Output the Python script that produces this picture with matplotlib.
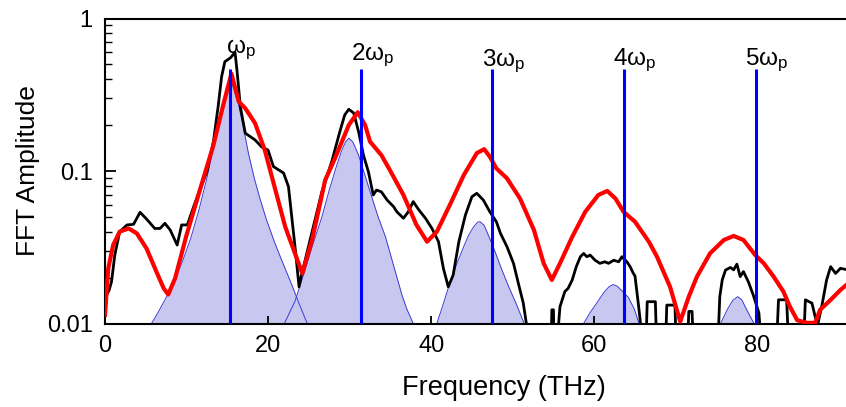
import matplotlib
matplotlib.use('Agg')
import matplotlib.pyplot as plt
from matplotlib.ticker import FuncFormatter, NullFormatter, LogLocator

# measured FFT spectrum (black)
blk_f = [0.2, 0.5, 0.8, 1.2, 1.8, 2.7, 3.5, 4.3, 5.1, 6.1, 6.75, 7.35, 8.0, 8.85, 9.4, 10.1,
         10.8, 11.7, 12.5, 13.3, 13.9, 14.3, 14.7, 15.4, 15.95, 16.2, 16.6, 17.2, 18.4, 19.2,
         20.0, 20.65, 21.9, 22.5, 23.3, 23.8, 24.1, 24.9, 25.7, 26.6, 27.8, 28.8, 29.4, 29.9,
         30.5, 31.1, 31.7, 32.3, 32.9, 33.3, 33.9, 34.6, 35.4, 35.8, 36.6, 37.2, 37.8, 38.5,
         39.3, 40.1, 40.9, 41.5, 42.1, 42.7, 43.4, 44.2, 45.0, 45.6, 46.4, 47.2, 48.0, 48.5,
         49.3, 50.1, 50.7, 51.3, 51.7, 51.9, 54.7, 54.8, 55.0, 55.1, 55.3, 55.8, 56.4, 56.8,
         57.3, 57.8, 58.3, 58.7, 59.1, 59.5, 60.1, 60.7, 61.3, 61.75, 62.4, 63.0, 63.4, 64.0,
         64.4, 64.8, 65.0, 65.4, 65.7, 66.3, 66.5, 67.5, 67.7, 68.7, 68.9, 69.9, 70.1, 71.4,
         71.6, 72.0, 72.2, 75.1, 75.4, 75.7, 76.1, 76.7, 77.1, 77.5, 77.9, 78.3, 78.9, 79.5,
         80.2, 80.6, 82.3, 82.6, 83.6, 83.9, 85.6, 85.9, 86.7, 87.1, 87.4, 87.9, 88.5, 89.0,
         89.6, 90.2, 90.9, 93.7]
blk_v = [0.0154, 0.0165, 0.0188, 0.0281, 0.040, 0.0443, 0.0447, 0.0536, 0.0484, 0.042, 0.042,
         0.0454, 0.041, 0.0327, 0.0443, 0.0443, 0.0569, 0.077, 0.099, 0.156, 0.271, 0.415,
         0.521, 0.553, 0.60, 0.45, 0.264, 0.177, 0.16, 0.144, 0.137, 0.107, 0.097, 0.079, 0.032,
         0.0174, 0.0208, 0.031, 0.0465, 0.073, 0.115, 0.181, 0.233, 0.254, 0.240, 0.181, 0.127,
         0.099, 0.0696, 0.075, 0.073, 0.0645, 0.0583, 0.054, 0.049, 0.054, 0.063, 0.0555, 0.049,
         0.042, 0.0344, 0.023, 0.0174, 0.0208, 0.0344, 0.0514, 0.0678, 0.0714, 0.0645, 0.054,
         0.0465, 0.039, 0.0319, 0.0248, 0.0183, 0.0136, 0.0098, 0.006, 0.006, 0.0123, 0.0123,
         0.006, 0.006, 0.0129, 0.0162, 0.017, 0.0193, 0.0236, 0.0274, 0.0288, 0.0274, 0.0281,
         0.026, 0.0248, 0.0254, 0.0248, 0.026, 0.0254, 0.0274, 0.0254, 0.0236, 0.0213, 0.0205,
         0.0136, 0.0098, 0.006, 0.0139, 0.0139, 0.006, 0.006, 0.0132, 0.0132, 0.006, 0.006,
         0.012, 0.012, 0.006, 0.006, 0.0150, 0.0193, 0.0224, 0.0233, 0.0225, 0.0245, 0.0203,
         0.0219, 0.0188, 0.0154, 0.0117, 0.006, 0.006, 0.0143, 0.0143, 0.006, 0.006, 0.0143,
         0.0136, 0.0111, 0.0098, 0.0129, 0.0193, 0.0236, 0.0213, 0.023, 0.0226, 0.0226]

# simulated spectrum (red)
red_f = [0.0, 0.4, 1.0, 1.8, 2.9, 3.9, 5.1, 6.3, 7.2, 7.75, 8.6, 10.0, 11.7, 13.3, 14.5, 15.5,
         16.4, 17.2, 18.4, 19.6, 20.9, 22.1, 23.3, 24.2, 25.4, 27.0, 28.2, 29.9, 31.0, 31.9,
         32.5, 33.9, 35.0, 36.6, 38.2, 39.5, 40.7, 42.3, 44.0, 45.6, 46.5, 47.2, 48.0, 49.3,
         50.9, 52.6, 53.8, 54.8, 55.8, 57.3, 58.9, 60.5, 61.6, 62.6, 63.6, 65.0, 66.7, 67.7,
         69.3, 70.55, 71.6, 72.6, 74.2, 75.9, 77.1, 78.3, 79.75, 80.8, 82.0, 83.2, 84.0, 84.9,
         86.1, 87.1, 87.7, 89.0, 90.2, 91.5, 93.7]
red_v = [0.0114, 0.023, 0.0327, 0.040, 0.042, 0.039, 0.031, 0.0219, 0.017, 0.0155, 0.0198,
         0.038, 0.077, 0.148, 0.271, 0.435, 0.285, 0.258, 0.206, 0.137, 0.075, 0.0431, 0.0288,
         0.0213, 0.0353, 0.087, 0.121, 0.200, 0.243, 0.200, 0.156, 0.127, 0.100, 0.0696, 0.0443,
         0.0344, 0.040, 0.060, 0.094, 0.131, 0.139, 0.124, 0.104, 0.0895, 0.066, 0.0411, 0.0248,
         0.0193, 0.0248, 0.037, 0.054, 0.0696, 0.074, 0.066, 0.054, 0.0465, 0.0344, 0.0274,
         0.0174, 0.0103, 0.015, 0.0203, 0.0288, 0.0353, 0.0375, 0.0353, 0.0281, 0.0248, 0.0203,
         0.0162, 0.0129, 0.0105, 0.0101, 0.0101, 0.0123, 0.0143, 0.0166, 0.019, 0.022]

# shaded harmonic peaks
peak1_f = [5.7, 6.5, 7.5, 8.5, 9.5, 10.5, 11.5, 12.5, 13.3, 14.0, 14.6, 15.0, 15.3, 15.6, 16.0,
           16.4, 17.0, 17.6, 18.3, 19.0, 19.8, 20.8, 21.8, 22.9, 23.8, 24.8]
peak1_v = [0.010, 0.0118, 0.0148, 0.019, 0.0255, 0.036, 0.055, 0.09, 0.141, 0.21, 0.30, 0.36,
           0.40, 0.37, 0.32, 0.27, 0.19, 0.13, 0.09, 0.066, 0.048, 0.034, 0.025, 0.018, 0.0135,
           0.010]
peak2_f = [22.0, 23.3, 24.5, 25.5, 26.6, 27.5, 28.3, 29.0, 29.5, 29.9, 30.4, 31.1, 31.9, 32.7,
           33.5, 34.4, 35.3, 36.4, 37.0, 37.8]
peak2_v = [0.010, 0.014, 0.022, 0.033, 0.050, 0.075, 0.104, 0.135, 0.155, 0.164, 0.155, 0.127,
           0.093, 0.068, 0.050, 0.037, 0.025, 0.0155, 0.0125, 0.010]
peak3_f = [40.7, 41.5, 42.3, 43.2, 44.0, 44.6, 45.2, 45.7, 46.0, 46.5, 47.2, 47.9, 48.6, 49.5,
           50.5, 51.4]
peak3_v = [0.010, 0.0135, 0.0185, 0.025, 0.032, 0.038, 0.043, 0.0462, 0.0465, 0.044, 0.036,
           0.029, 0.023, 0.0175, 0.0132, 0.010]
peak4_f = [58.7, 59.5, 60.3, 61.2, 61.8, 62.3, 62.8, 63.5, 64.2, 64.9, 65.5]
peak4_v = [0.010, 0.0118, 0.0136, 0.0160, 0.0174, 0.0180, 0.0176, 0.0162, 0.0148, 0.0125, 0.010]
peak5_f = [75.5, 76.3, 77.0, 77.6, 78.1, 78.7, 79.6]
peak5_v = [0.010, 0.0123, 0.0142, 0.0150, 0.0143, 0.0123, 0.010]

# harmonic markers
harm_f = [15.3, 31.4, 47.5, 63.6, 79.8]
harm_top = 0.47
harm_labels = ['ω$_p$', '2ω$_p$', '3ω$_p$', '4ω$_p$', '5ω$_p$']
label_y = [0.594, 0.534, 0.488, 0.496, 0.496]

plt.rcParams['font.family'] = ['Liberation Sans', 'DejaVu Sans']
plt.rcParams['mathtext.default'] = 'regular'

W, H = 846, 407
fig = plt.figure(figsize=(W / 100, H / 100), dpi=100)
# axes run slightly past the right edge, as in the cropped original
ax = fig.add_axes([105 / W, (H - 323.5) / H, (869 - 105) / W, (323.5 - 18.5) / H])
ax.set_yscale('log')

peaks = [(peak1_f, peak1_v), (peak2_f, peak2_v), (peak3_f, peak3_v),
         (peak4_f, peak4_v), (peak5_f, peak5_v)]
for pf, pv in peaks:
    ax.fill_between(pf, pv, 0.01, color='#c7c7f0', linewidth=0, zorder=1)
for pf, pv in peaks:
    ax.plot(pf, pv, color='#3b3bd6', linewidth=0.7, zorder=1.5)

ax.plot(blk_f, blk_v, color='black', linewidth=2.0, zorder=2)
ax.plot(red_f, red_v, color='#ff0000', linewidth=3.0, zorder=3)

ax.vlines(harm_f, 0.01, harm_top, color='#0000ff', linewidth=2.2, zorder=4)
for f, y, lab in zip(harm_f, label_y, harm_labels):
    ax.text(f + 1.4, y, lab, ha='center', va='baseline', fontsize=17.5, zorder=5)

ax.set_xlim(0, 93.7)
ax.set_ylim(0.01, 1)
ax.set_xticks([0, 20, 40, 60, 80])
ax.yaxis.set_major_locator(LogLocator(base=10))
ax.yaxis.set_minor_locator(LogLocator(base=10, subs=range(2, 10)))
ax.yaxis.set_major_formatter(FuncFormatter(lambda v, _: f'{v:g}'))
ax.yaxis.set_minor_formatter(NullFormatter())

ax.tick_params(axis='x', direction='in', length=6, width=1.3, labelsize=17, pad=8)
ax.tick_params(axis='y', which='major', direction='in', length=8, width=1.3, labelsize=17, pad=9)
ax.tick_params(axis='y', which='minor', direction='in', length=5, width=1.0)
for s in ax.spines.values():
    s.set_linewidth(1.5)

ax.set_xlabel('Frequency (THz)', fontsize=19.5, labelpad=12)
ax.xaxis.set_label_coords((503.5 - 105) / (869 - 105), -0.17)
ax.set_ylabel('FFT Amplitude', fontsize=19, labelpad=5)

fig.savefig('out.png', dpi=100, facecolor='white')
